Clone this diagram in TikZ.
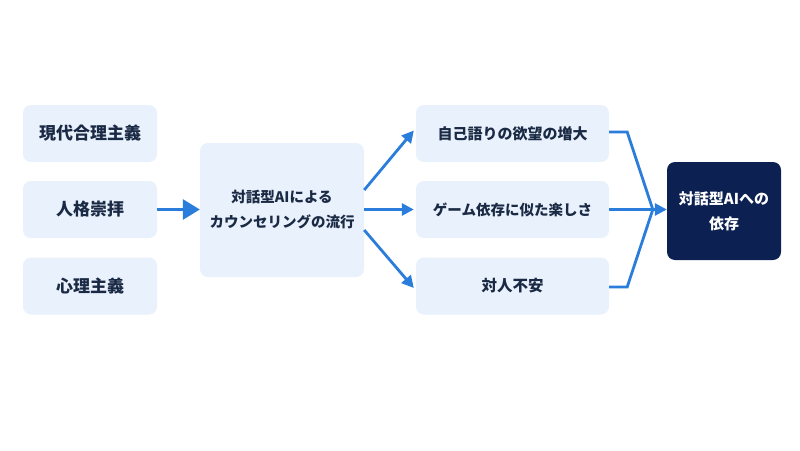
\documentclass[tikz,border=0pt]{standalone}
\usepackage{fontspec}
\setmainfont{Noto Sans CJK JP}
\usetikzlibrary{arrows.meta,calc}
\definecolor{boxfill}{HTML}{E8F1FC}
\definecolor{txt}{HTML}{1B2A44}
\definecolor{dark}{HTML}{0C2152}
\definecolor{arrblue}{HTML}{2B7DDB}
\begin{document}
\begin{tikzpicture}[x=1pt,y=-1pt,
  lbox/.style={rectangle,rounded corners=8pt,fill=boxfill,text=txt,font=\bfseries\fontsize{17}{19}\selectfont,align=center,inner sep=0pt},
  dbox/.style={rectangle,rounded corners=8pt,fill=dark,text=white,font=\bfseries\fontsize{15}{25}\selectfont,align=center,inner sep=0pt},
  conn/.style={draw=arrblue,line width=2.8pt},
  arr/.style={conn,-{Triangle[length=12pt,width=12pt]}},
  bigarr/.style={conn,-{Triangle[length=17pt,width=20pt]}}]
\useasboundingbox (0,0) rectangle (800,450);
\fill[white] (0,0) rectangle (800,450);
% left column
\node[lbox,minimum width=134pt,minimum height=57pt] (l1) at (90,133.5) {現代合理主義};
\node[lbox,minimum width=134pt,minimum height=57pt] (l2) at (90,209.5) {人格崇拝};
\node[lbox,minimum width=134pt,minimum height=57pt] (l3) at (90,286) {心理主義};
% middle
\node[lbox,minimum width=164pt,minimum height=134pt,font=\bfseries\fontsize{14.5}{25}\selectfont] (mid) at (282,210) {対話型AIによる\\カウンセリングの流行};
% right column
\node[lbox,minimum width=193pt,minimum height=57pt,font=\bfseries\fontsize{15}{19}\selectfont] (r1) at (512.5,133.5) {自己語りの欲望の増大};
\node[lbox,minimum width=193pt,minimum height=57pt,font=\bfseries\fontsize{14.5}{19}\selectfont] (r2) at (512.5,209.5) {ゲーム依存に似た楽しさ};
\node[lbox,minimum width=193pt,minimum height=57pt,font=\bfseries\fontsize{15.5}{19}\selectfont] (r3) at (512.5,286) {対人不安};
% final
\node[dbox,minimum width=114pt,minimum height=98pt] (fin) at (724,211) {対話型AIへの\\依存};
% connectors
\draw[bigarr] (l2.east) -- (mid.west |- l2.east);
\draw[arr] ($(mid.east)+(0,-20)$) -- ($(r1.west)+(-2,-3)$);
\draw[arr] (mid.east |- r2.west) -- ($(r2.west)+(-2,0)$);
\draw[arr] ($(mid.east)+(0,20)$) -- ($(r3.west)+(-2,2)$);
\coordinate (j) at ($(fin.west |- r2.east)+(-14,0)$);
\draw[conn,line join=miter] ($(r1.east)+(0,-1.5)$) -- ++(18,0) -- (j);
\draw[conn,line join=miter] ($(r3.east)+(0,1)$) -- ++(18,0) -- (j);
\draw[arr] (r2.east) -- (fin.west |- r2.east);
\end{tikzpicture}
\end{document}
